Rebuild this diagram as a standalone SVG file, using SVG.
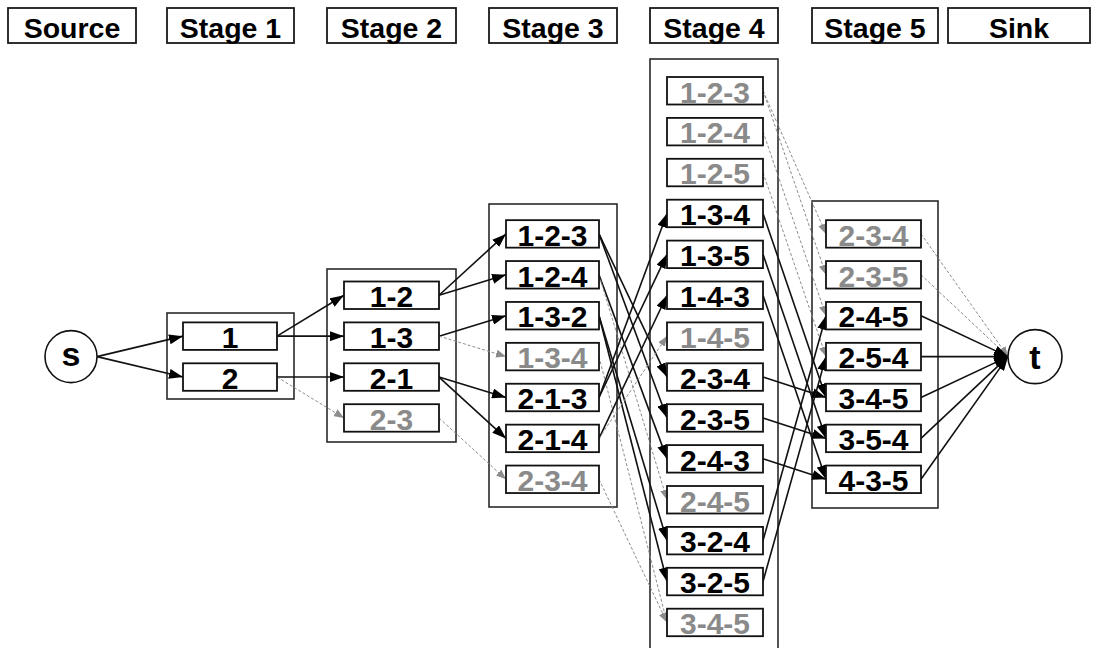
<svg xmlns="http://www.w3.org/2000/svg" width="1096" height="648" viewBox="0 0 1096 648">
  <style>
    text { font-family: "Liberation Sans", Arial, Helvetica, sans-serif; font-weight: bold; text-anchor: middle; }
    .hdr rect { fill: #fff; stroke: #1a1a1a; stroke-width: 1.8; }
    .hdr text { font-size: 28.5px; fill: #000; }
    .box { fill: none; stroke: #2a2a2a; stroke-width: 1.6; }
    .node rect { fill: #fff; stroke: #111; stroke-width: 1.8; }
    .node text { font-size: 30px; fill: #000; }
    .node.off text { fill: #8a8a8a; }
    .circ circle { fill: #fff; stroke: #111; stroke-width: 1.6; }
    .circ text { font-size: 34px; fill: #000; }
    .on { stroke: #111; stroke-width: 1.6; fill: none; marker-end: url(#ah); }
    .dim { stroke: #8c8c8c; stroke-width: 1; stroke-dasharray: 3 2; fill: none; marker-end: url(#ahg); }
  </style>
  <defs>
    <marker id="ah" markerWidth="14" markerHeight="10" refX="14" refY="5" orient="auto" markerUnits="userSpaceOnUse">
      <path d="M0,0 L14,5 L0,10 z" fill="#000"/>
    </marker>
    <marker id="ahg" markerWidth="10" markerHeight="8" refX="10" refY="4" orient="auto" markerUnits="userSpaceOnUse">
      <path d="M0,0 L10,4 L0,8 z" fill="#8c8c8c"/>
    </marker>
  </defs>
  <rect width="1096" height="648" fill="#fff"/>

  <!-- column headers -->
  <g id="headers" class="hdr">
    <rect x="8" y="8" width="128" height="35"/><text x="72" y="38">Source</text>
    <rect x="167" y="8" width="127" height="35"/><text x="230.5" y="38">Stage 1</text>
    <rect x="327" y="8" width="129" height="35"/><text x="391.5" y="38">Stage 2</text>
    <rect x="489" y="8" width="128" height="35"/><text x="553" y="38">Stage 3</text>
    <rect x="650" y="8" width="128" height="35"/><text x="714" y="38">Stage 4</text>
    <rect x="812" y="8" width="126" height="35"/><text x="875" y="38">Stage 5</text>
    <rect x="948" y="8" width="142" height="35"/><text x="1019" y="38">Sink</text>
  </g>

  <!-- stage containers -->
  <g id="containers">
    <rect id="stage1-box" class="box" x="167" y="313" width="127" height="86"/>
    <rect id="stage2-box" class="box" x="327" y="269" width="129" height="173"/>
    <rect id="stage3-box" class="box" x="489" y="204" width="128" height="303"/>
    <rect id="stage4-box" class="box" x="650" y="59" width="128" height="600"/>
    <rect id="stage5-box" class="box" x="812" y="201" width="126" height="307"/>
  </g>

  <!-- connectors -->
  <g id="connectors">
    <!-- source to stage 1 -->
    <line class="on" x1="97" y1="356.6" x2="183" y2="336.15"/>
    <line class="on" x1="97" y1="356.6" x2="183" y2="377.05"/>
    <!-- stage 1 to stage 2 -->
    <line class="on" x1="277" y1="336.15" x2="344" y2="295.25"/>
    <line class="on" x1="277" y1="336.15" x2="344" y2="336.15"/>
    <line class="on" x1="277" y1="377.05" x2="344" y2="377.05"/>
    <line class="dim" x1="277" y1="377.05" x2="344" y2="417.95"/>
    <!-- stage 2 to stage 3 -->
    <line class="on" x1="439" y1="295.25" x2="506" y2="233.9"/>
    <line class="on" x1="439" y1="295.25" x2="506" y2="274.8"/>
    <line class="on" x1="439" y1="336.15" x2="506" y2="315.7"/>
    <line class="dim" x1="439" y1="336.15" x2="506" y2="356.6"/>
    <line class="on" x1="439" y1="377.05" x2="506" y2="397.5"/>
    <line class="on" x1="439" y1="377.05" x2="506" y2="438.4"/>
    <line class="dim" x1="439" y1="417.95" x2="506" y2="479.3"/>
    <!-- stage 3 to stage 4 -->
    <line class="on" x1="599" y1="233.9" x2="667" y2="377.05"/>
    <line class="on" x1="599" y1="233.9" x2="667" y2="417.95"/>
    <line class="on" x1="599" y1="274.8" x2="667" y2="458.85"/>
    <line class="dim" x1="599" y1="274.8" x2="667" y2="499.75"/>
    <line class="on" x1="599" y1="315.7" x2="667" y2="540.65"/>
    <line class="on" x1="599" y1="315.7" x2="667" y2="581.55"/>
    <line class="dim" x1="599" y1="356.6" x2="667" y2="622.45"/>
    <line class="on" x1="599" y1="397.5" x2="667" y2="213.45"/>
    <line class="on" x1="599" y1="397.5" x2="667" y2="254.35"/>
    <line class="on" x1="599" y1="438.4" x2="667" y2="295.25"/>
    <line class="dim" x1="599" y1="438.4" x2="667" y2="336.15"/>
    <line class="dim" x1="599" y1="479.3" x2="667" y2="622.45"/>
    <!-- stage 4 to stage 5 -->
    <line class="dim" x1="763" y1="90.75" x2="826" y2="233.9"/>
    <line class="dim" x1="763" y1="90.75" x2="826" y2="274.8"/>
    <line class="dim" x1="763" y1="131.65" x2="826" y2="315.7"/>
    <line class="dim" x1="763" y1="172.55" x2="826" y2="356.6"/>
    <line class="on" x1="763" y1="213.45" x2="826" y2="397.5"/>
    <line class="on" x1="763" y1="254.35" x2="826" y2="438.4"/>
    <line class="on" x1="763" y1="295.25" x2="826" y2="479.3"/>
    <line class="on" x1="763" y1="377.05" x2="826" y2="397.5"/>
    <line class="on" x1="763" y1="417.95" x2="826" y2="438.4"/>
    <line class="on" x1="763" y1="458.85" x2="826" y2="479.3"/>
    <line class="on" x1="763" y1="540.65" x2="826" y2="315.7"/>
    <line class="on" x1="763" y1="581.55" x2="826" y2="356.6"/>
    <!-- stage 5 to sink -->
    <line class="dim" x1="921" y1="233.9" x2="1008" y2="356.6"/>
    <line class="dim" x1="921" y1="274.8" x2="1008" y2="356.6"/>
    <line class="on" x1="921" y1="315.7" x2="1008" y2="356.6"/>
    <line class="on" x1="921" y1="356.6" x2="1008" y2="356.6"/>
    <line class="on" x1="921" y1="397.5" x2="1008" y2="356.6"/>
    <line class="on" x1="921" y1="438.4" x2="1008" y2="356.6"/>
    <line class="on" x1="921" y1="479.3" x2="1008" y2="356.6"/>
  </g>

  <!-- source and sink -->
  <g id="s" class="circ"><circle cx="71" cy="356.6" r="26"/><text x="71" y="366">s</text></g>
  <g id="t" class="circ"><circle cx="1035" cy="356.6" r="27"/><text x="1035" y="369">t</text></g>

  <!-- stage 1 -->
  <g id="n1-1" class="node"><rect x="183" y="322.4" width="94" height="27.5"/><text x="230" y="347.9">1</text></g>
  <g id="n1-2" class="node"><rect x="183" y="363.3" width="94" height="27.5"/><text x="230" y="388.8">2</text></g>

  <!-- stage 2 -->
  <g id="n2-12" class="node"><rect x="344" y="281.5" width="95" height="27.5"/><text x="391.5" y="307">1-2</text></g>
  <g id="n2-13" class="node"><rect x="344" y="322.4" width="95" height="27.5"/><text x="391.5" y="347.9">1-3</text></g>
  <g id="n2-21" class="node"><rect x="344" y="363.3" width="95" height="27.5"/><text x="391.5" y="388.8">2-1</text></g>
  <g id="n2-23" class="node off"><rect x="344" y="404.2" width="95" height="27.5"/><text x="391.5" y="429.7">2-3</text></g>

  <!-- stage 3 -->
  <g id="n3-123" class="node"><rect x="506" y="220.15" width="93" height="27.5"/><text x="552.5" y="245.65">1-2-3</text></g>
  <g id="n3-124" class="node"><rect x="506" y="261.05" width="93" height="27.5"/><text x="552.5" y="286.55">1-2-4</text></g>
  <g id="n3-132" class="node"><rect x="506" y="301.95" width="93" height="27.5"/><text x="552.5" y="327.45">1-3-2</text></g>
  <g id="n3-134" class="node off"><rect x="506" y="342.85" width="93" height="27.5"/><text x="552.5" y="368.35">1-3-4</text></g>
  <g id="n3-213" class="node"><rect x="506" y="383.75" width="93" height="27.5"/><text x="552.5" y="409.25">2-1-3</text></g>
  <g id="n3-214" class="node"><rect x="506" y="424.65" width="93" height="27.5"/><text x="552.5" y="450.15">2-1-4</text></g>
  <g id="n3-234" class="node off"><rect x="506" y="465.55" width="93" height="27.5"/><text x="552.5" y="491.05">2-3-4</text></g>

  <!-- stage 4 -->
  <g id="n4-123" class="node off"><rect x="667" y="77" width="96" height="27.5"/><text x="715" y="102.5">1-2-3</text></g>
  <g id="n4-124" class="node off"><rect x="667" y="117.9" width="96" height="27.5"/><text x="715" y="143.4">1-2-4</text></g>
  <g id="n4-125" class="node off"><rect x="667" y="158.8" width="96" height="27.5"/><text x="715" y="184.3">1-2-5</text></g>
  <g id="n4-134" class="node"><rect x="667" y="199.7" width="96" height="27.5"/><text x="715" y="225.2">1-3-4</text></g>
  <g id="n4-135" class="node"><rect x="667" y="240.6" width="96" height="27.5"/><text x="715" y="266.1">1-3-5</text></g>
  <g id="n4-143" class="node"><rect x="667" y="281.5" width="96" height="27.5"/><text x="715" y="307">1-4-3</text></g>
  <g id="n4-145" class="node off"><rect x="667" y="322.4" width="96" height="27.5"/><text x="715" y="347.9">1-4-5</text></g>
  <g id="n4-234" class="node"><rect x="667" y="363.3" width="96" height="27.5"/><text x="715" y="388.8">2-3-4</text></g>
  <g id="n4-235" class="node"><rect x="667" y="404.2" width="96" height="27.5"/><text x="715" y="429.7">2-3-5</text></g>
  <g id="n4-243" class="node"><rect x="667" y="445.1" width="96" height="27.5"/><text x="715" y="470.6">2-4-3</text></g>
  <g id="n4-245" class="node off"><rect x="667" y="486" width="96" height="27.5"/><text x="715" y="511.5">2-4-5</text></g>
  <g id="n4-324" class="node"><rect x="667" y="526.9" width="96" height="27.5"/><text x="715" y="552.4">3-2-4</text></g>
  <g id="n4-325" class="node"><rect x="667" y="567.8" width="96" height="27.5"/><text x="715" y="593.3">3-2-5</text></g>
  <g id="n4-345" class="node off"><rect x="667" y="608.7" width="96" height="27.5"/><text x="715" y="634.2">3-4-5</text></g>

  <!-- stage 5 -->
  <g id="n5-234" class="node off"><rect x="826" y="220.15" width="95" height="27.5"/><text x="873.5" y="245.65">2-3-4</text></g>
  <g id="n5-235" class="node off"><rect x="826" y="261.05" width="95" height="27.5"/><text x="873.5" y="286.55">2-3-5</text></g>
  <g id="n5-245" class="node"><rect x="826" y="301.95" width="95" height="27.5"/><text x="873.5" y="327.45">2-4-5</text></g>
  <g id="n5-254" class="node"><rect x="826" y="342.85" width="95" height="27.5"/><text x="873.5" y="368.35">2-5-4</text></g>
  <g id="n5-345" class="node"><rect x="826" y="383.75" width="95" height="27.5"/><text x="873.5" y="409.25">3-4-5</text></g>
  <g id="n5-354" class="node"><rect x="826" y="424.65" width="95" height="27.5"/><text x="873.5" y="450.15">3-5-4</text></g>
  <g id="n5-435" class="node"><rect x="826" y="465.55" width="95" height="27.5"/><text x="873.5" y="491.05">4-3-5</text></g>
</svg>
